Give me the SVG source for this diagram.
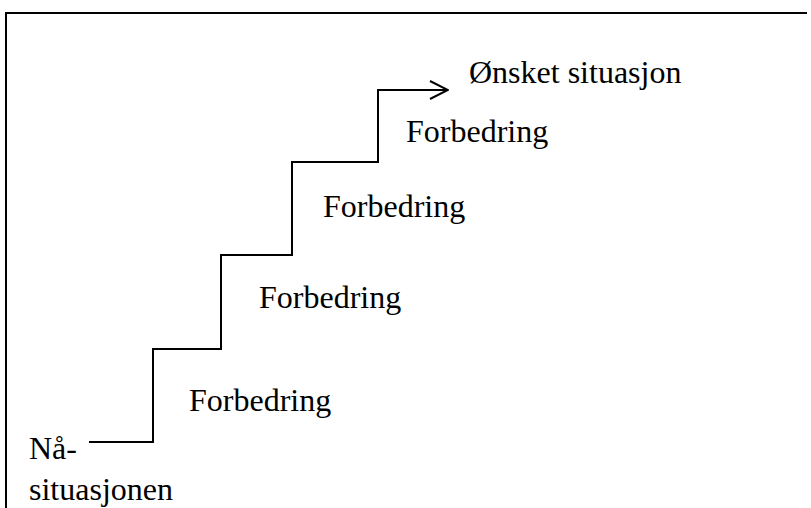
<svg xmlns="http://www.w3.org/2000/svg" width="811" height="508" viewBox="0 0 811 508">
  <style>
    .lbl { font-family: "Liberation Serif", Tinos, "Times New Roman", "DejaVu Serif", serif; font-size: 32px; fill: #000; }
    .frame { stroke: #000; stroke-width: 2; fill: none; }
    .stair { stroke: #000; stroke-width: 2; fill: none; }
  </style>
  <defs>
    <marker id="open-arrow" viewBox="0 0 20 20" refX="19" refY="10" markerWidth="20" markerHeight="20" markerUnits="userSpaceOnUse" orient="auto">
      <path d="M1,1 L19,10 L1,19" fill="none" stroke="#000" stroke-width="2"/>
    </marker>
  </defs>
  <rect width="811" height="508" fill="#fff"/>
  <!-- page frame: top and left edges -->
  <path class="frame" d="M6,508 V13 H807"/>
  <g id="connectors">
    <path class="stair" d="M89,442 H153 V349 H221 V255 H292 V162 H378 V90 H448" marker-end="url(#open-arrow)"/>
  </g>
  <g id="start">
    <text class="lbl" x="29" y="459" font-family="Liberation Serif, serif">Nå-</text>
    <text class="lbl" x="29" y="500" font-family="Liberation Serif, serif">situasjonen</text>
  </g>
  <g id="step1"><text class="lbl" x="189" y="411">Forbedring</text></g>
  <g id="step2"><text class="lbl" x="259" y="308">Forbedring</text></g>
  <g id="step3"><text class="lbl" x="323" y="217">Forbedring</text></g>
  <g id="step4"><text class="lbl" x="406" y="142">Forbedring</text></g>
  <g id="goal"><text class="lbl" x="469" y="83">Ønsket situasjon</text></g>
</svg>
